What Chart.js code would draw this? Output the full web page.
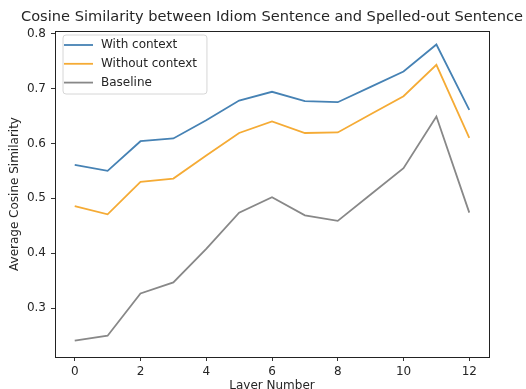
<!DOCTYPE html>
<html>
<head>
<meta charset="utf-8">
<script src="https://cdn.jsdelivr.net/npm/chart.js@4"></script>
<style>
    html, body { margin: 0; padding: 0; background: #fff; overflow: hidden; }
    canvas { display: block; }
</style>
</head>
<body>
<canvas id="simChart" width="526" height="389"></canvas>
<script>
// 数据
const layers = [0, 1, 2, 3, 4, 5, 6, 7, 8, 9, 10, 11, 12];
const withContext = [0.561, 0.550, 0.604, 0.609, 0.642, 0.678, 0.694, 0.677, 0.675, 0.703, 0.731, 0.780, 0.661];
const withoutContext = [0.486, 0.471, 0.530, 0.536, 0.578, 0.619, 0.640, 0.619, 0.620, 0.653, 0.686, 0.743, 0.610];
const baseline = [0.241, 0.250, 0.327, 0.347, 0.408, 0.474, 0.502, 0.469, 0.459, 0.507, 0.555, 0.649, 0.474];
const seriesLabels = ['With context', 'Without context', 'Baseline'];
const xTicks = [0, 2, 4, 6, 8, 10, 12];
const yTicks = [0.3, 0.4, 0.5, 0.6, 0.7, 0.8];
const chartTitle = 'Cosine Similarity between Idiom Sentence and Spelled-out Sentence';

const FONT = '"DejaVu Sans", sans-serif';
const TEXT = '#262626';

Chart.defaults.font.family = FONT;
Chart.defaults.font.size = 12;
Chart.defaults.color = TEXT;

function toPoints(values) {
    return layers.map((x, i) => ({ x: x, y: values[i] }));
}

// 标题：居中于绘图区
const titlePlugin = {
    id: 'titlePlugin',
    afterDraw(chart) {
        const { ctx, chartArea } = chart;
        ctx.save();
        ctx.font = '14.6px ' + FONT;
        ctx.fillStyle = TEXT;
        ctx.textAlign = 'center';
        ctx.textBaseline = 'middle';
        ctx.fillText(chartTitle, (chartArea.left + chartArea.right) / 2, 17.5);
        ctx.restore();
    }
};

// 四周边框
const framePlugin = {
    id: 'framePlugin',
    afterDraw(chart) {
        const { ctx, chartArea } = chart;
        ctx.save();
        ctx.strokeStyle = '#222';
        ctx.lineWidth = 1;
        ctx.strokeRect(Math.round(chartArea.left) + 0.5, Math.round(chartArea.top) + 0.5,
            Math.round(chartArea.right - chartArea.left), Math.round(chartArea.bottom - chartArea.top));
        ctx.restore();
    }
};

// 图例（左上角带框）
const legendPlugin = {
    id: 'legendPlugin',
    afterDatasetsDraw(chart) {
        const { ctx, chartArea } = chart;
        const sets = chart.data.datasets;
        const x0 = chartArea.left + 8;
        const y0 = chartArea.top + 4;
        ctx.save();
        ctx.font = '12px ' + FONT;
        const textW = Math.max(...sets.map(d => ctx.measureText(d.label).width));
        const w = 5 + 29 + 8 + textW + 6;
        const h = 59;
        const r = 3;
        ctx.beginPath();
        ctx.moveTo(x0 + r, y0);
        ctx.arcTo(x0 + w, y0, x0 + w, y0 + h, r);
        ctx.arcTo(x0 + w, y0 + h, x0, y0 + h, r);
        ctx.arcTo(x0, y0 + h, x0, y0, r);
        ctx.arcTo(x0, y0, x0 + w, y0, r);
        ctx.closePath();
        ctx.fillStyle = 'rgba(255,255,255,0.8)';
        ctx.fill();
        ctx.strokeStyle = '#d6d6d6';
        ctx.lineWidth = 1;
        ctx.stroke();
        sets.forEach((d, i) => {
            const y = y0 + 10 + i * 18.8;
            ctx.beginPath();
            ctx.moveTo(x0 + 1, y);
            ctx.lineTo(x0 + 30, y);
            ctx.strokeStyle = d.borderColor;
            ctx.lineWidth = 1.8;
            ctx.stroke();
            ctx.fillStyle = TEXT;
            ctx.textBaseline = 'middle';
            ctx.fillText(d.label, x0 + 38, y);
        });
        ctx.restore();
    }
};

function lineSet(label, values, color) {
    return {
        label: label,
        data: toPoints(values),
        borderColor: color,
        backgroundColor: color,
        borderWidth: 1.8,
        pointRadius: 0,
        tension: 0,
        fill: false
    };
}

new Chart(document.getElementById('simChart'), {
    type: 'line',
    data: {
        datasets: [
            lineSet(seriesLabels[0], withContext, '#4682b4'),
            lineSet(seriesLabels[1], withoutContext, '#f5ab35'),
            lineSet(seriesLabels[2], baseline, '#888888')
        ]
    },
    options: {
        responsive: false,
        animation: false,
        devicePixelRatio: 1,
        layout: { padding: { top: 31, right: 37, left: 0, bottom: 0 } },
        plugins: {
            legend: { display: false },
            title: { display: false },
            tooltip: { enabled: false }
        },
        scales: {
            x: {
                type: 'linear',
                min: -0.6,
                max: 12.6,
                afterBuildTicks: axis => { axis.ticks = xTicks.map(v => ({ value: v })); },
                afterFit: scale => { scale.height = 32; },
                grid: { display: true, drawOnChartArea: false, drawTicks: true, tickLength: 4, color: '#333' },
                border: { display: false },
                ticks: { padding: 4, color: TEXT, font: { size: 12 } },
                title: { display: true, text: 'Layer Number', color: TEXT, font: { size: 12 }, padding: { top: 0, bottom: -4 } }
            },
            y: {
                type: 'linear',
                min: 0.2113,
                max: 0.8046,
                afterBuildTicks: axis => { axis.ticks = yTicks.map(v => ({ value: v })); },
                afterFit: scale => { scale.width = 55; },
                grid: { display: true, drawOnChartArea: false, drawTicks: true, tickLength: 4, color: '#333' },
                border: { display: false },
                ticks: { padding: 5, color: TEXT, font: { size: 12 }, callback: v => v.toFixed(1) },
                title: { display: true, text: 'Average Cosine Similarity', color: TEXT, font: { size: 12 }, padding: { top: 8, bottom: 0 } }
            }
        }
    },
    plugins: [titlePlugin, framePlugin, legendPlugin]
});
</script>
</body>
</html>
